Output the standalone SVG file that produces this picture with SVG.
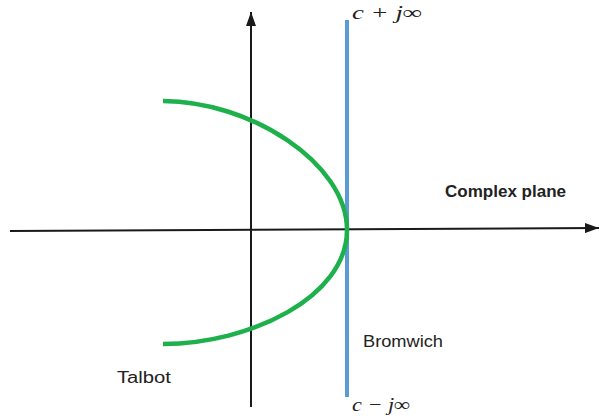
<svg xmlns="http://www.w3.org/2000/svg" width="599" height="419" viewBox="0 0 599 419">
<style>
.axis{stroke:#1a1a1a;stroke-width:2;fill:none}
.lbl{font-family:"Liberation Sans",Arial,sans-serif;font-size:16px;fill:#222}
.math{font-family:"Liberation Serif","DejaVu Serif",serif;font-style:italic;font-size:19px;fill:#222}
</style>
<defs>
<marker id="arr2" viewBox="0 0 10 10" refX="10" refY="5" markerWidth="14" markerHeight="10" markerUnits="userSpaceOnUse" orient="auto" preserveAspectRatio="none">
<path d="M0,0 L10,5 L0,10 z" fill="#1a1a1a"/>
</marker>
</defs>
<g id="connectors">
<line class="axis" x1="10" y1="231" x2="599" y2="228" marker-end="url(#arr2)"/>
<line class="axis" x1="251" y1="407" x2="251" y2="12" marker-end="url(#arr2)"/>
</g>
<g id="bromwich">
<line x1="347" y1="20" x2="347" y2="397" stroke="#5b9bd5" stroke-width="4"/>
<text class="lbl" x="363" y="347" textLength="80" lengthAdjust="spacingAndGlyphs">Bromwich</text>
<text class="math" x="352" y="19" textLength="70" lengthAdjust="spacingAndGlyphs">c + j∞</text>
<text class="math" x="352" y="411" textLength="58" lengthAdjust="spacingAndGlyphs">c − j∞</text>
</g>
<g id="talbot">
<path d="M163,101 C250,101 347,163 347,230 C347,297 250,344 163,344" fill="none" stroke="#1db04b" stroke-width="4.5"/>
<text class="lbl" x="117" y="383" textLength="54" lengthAdjust="spacingAndGlyphs">Talbot</text>
</g>
<g id="plane">
<text class="lbl" x="445" y="197" font-weight="bold" textLength="121" lengthAdjust="spacingAndGlyphs">Complex plane</text>
</g>
</svg>
